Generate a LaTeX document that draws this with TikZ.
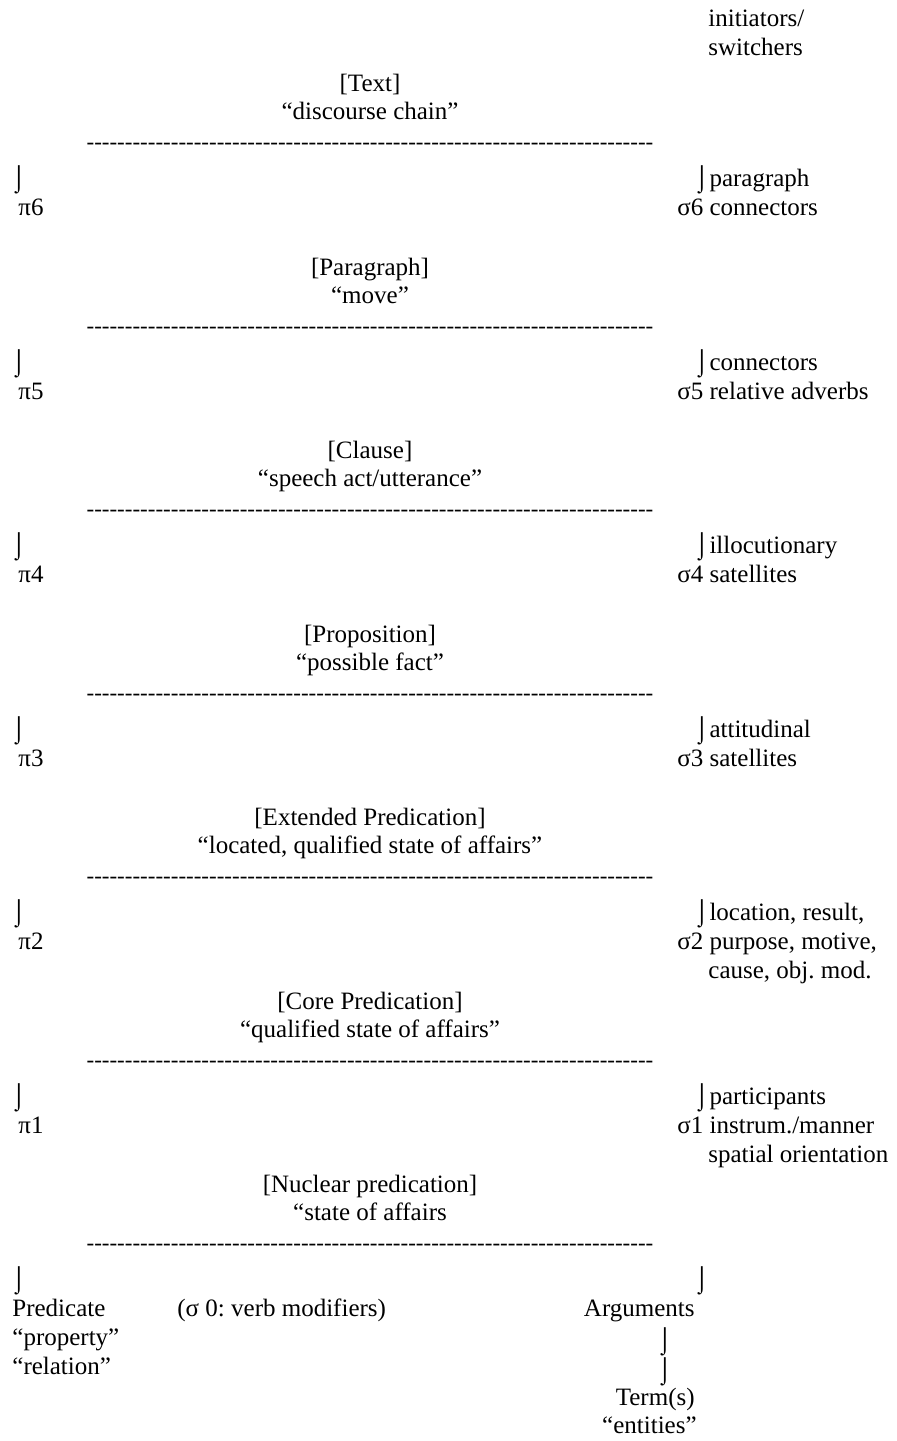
\documentclass[tikz,border=0pt]{standalone}
\usepackage{fontspec}
\setmainfont{Liberation Serif}
\usetikzlibrary{positioning}
\frenchspacing
\newcommand{\dashrow}{\foreach \i in {1,...,74}{-\kern0pt}}

\begin{document}
\begin{tikzpicture}[x=0.5pt,y=-0.5pt,font=\fontsize{12.5}{14.5}\selectfont,inner sep=0pt,
  lvl/.style={anchor=base},
  lft/.style={anchor=base west},
  rgt/.style={anchor=base east},
  rule/.style={font=\fontsize{11.5}{14}\selectfont}]
  \useasboundingbox (0,0) rectangle (897,1441);

  \node[lft] (init) at (708,26) {initiators/};
  \node[lft] (switch) at (708,55) {switchers};

  \node[lvl] (text) at (370,91) {[Text]};
  \node[lvl] (textg) at (370,119) {“discourse chain”};
  \node[rule] (rule6) at (370,146) {\dashrow};
  \node[lft] (hook6) at (11,186) {⌡};
  \node[lft] (pi6) at (18,215) {π6};
  \node[lft] (r6a) at (694,186) {⌡paragraph};
  \node[lft] (r6b) at (677,215) {σ6 connectors};

  \node[lvl] (para) at (370,275) {[Paragraph]};
  \node[lvl] (parag) at (370,303) {“move”};
  \node[rule] (rule5) at (370,330) {\dashrow};
  \node[lft] (hook5) at (11,370) {⌡};
  \node[lft] (pi5) at (18,399) {π5};
  \node[lft] (r5a) at (694,370) {⌡connectors};
  \node[lft] (r5b) at (677,399) {σ5 relative adverbs};

  \node[lvl] (clause) at (370,458) {[Clause]};
  \node[lvl] (clauseg) at (370,486) {“speech act/utterance”};
  \node[rule] (rule4) at (370,513) {\dashrow};
  \node[lft] (hook4) at (11,553) {⌡};
  \node[lft] (pi4) at (18,582) {π4};
  \node[lft] (r4a) at (694,553) {⌡illocutionary};
  \node[lft] (r4b) at (677,582) {σ4 satellites};

  \node[lvl] (prop) at (370,642) {[Proposition]};
  \node[lvl] (propg) at (370,670) {“possible fact”};
  \node[rule] (rule3) at (370,697) {\dashrow};
  \node[lft] (hook3) at (11,737) {⌡};
  \node[lft] (pi3) at (18,766) {π3};
  \node[lft] (r3a) at (694,737) {⌡attitudinal};
  \node[lft] (r3b) at (677,766) {σ3 satellites};

  \node[lvl] (ext) at (370,825) {[Extended Predication]};
  \node[lvl] (extg) at (370,853) {“located, qualified state of affairs”};
  \node[rule] (rule2) at (370,880) {\dashrow};
  \node[lft] (hook2) at (11,920) {⌡};
  \node[lft] (pi2) at (18,949) {π2};
  \node[lft] (r2a) at (694,920) {⌡location, result,};
  \node[lft] (r2b) at (677,949) {σ2 purpose, motive,};
  \node[lft] (r2c) at (708,978) {cause, obj. mod.};

  \node[lvl] (core) at (370,1009) {[Core Predication]};
  \node[lvl] (coreg) at (370,1037) {“qualified state of affairs”};
  \node[rule] (rule1) at (370,1064) {\dashrow};
  \node[lft] (hook1) at (11,1104) {⌡};
  \node[lft] (pi1) at (18,1133) {π1};
  \node[lft] (r1a) at (694,1104) {⌡participants};
  \node[lft] (r1b) at (677,1133) {σ1 instrum./manner};
  \node[lft] (r1c) at (708,1162) {spatial orientation};

  \node[lvl] (nuc) at (370,1192) {[Nuclear predication]};
  \node[lvl] (nucg) at (370,1220) {“state of affairs};
  \node[rule] (rule0) at (370,1247) {\dashrow};

  \node[lft] (hookP) at (11,1287) {⌡};
  \node[lft] (pred) at (12,1316) {Predicate};
  \node[lft] (predp) at (12,1345) {“property”};
  \node[lft] (predr) at (12,1374) {“relation”};
  \node[lft] (sig0) at (177,1316) {(σ 0: verb modifiers)};
  \node[lft] (hookA) at (694,1287) {⌡};
  \node[rgt] (args) at (695,1316) {Arguments};
  \node[lft] (hookT1) at (657,1348) {⌡};
  \node[lft] (hookT2) at (657,1378) {⌡};
  \node[rgt] (term) at (695,1405) {Term(s)};
  \node[rgt] (ent) at (697,1433) {“entities”};
\end{tikzpicture}
\end{document}
